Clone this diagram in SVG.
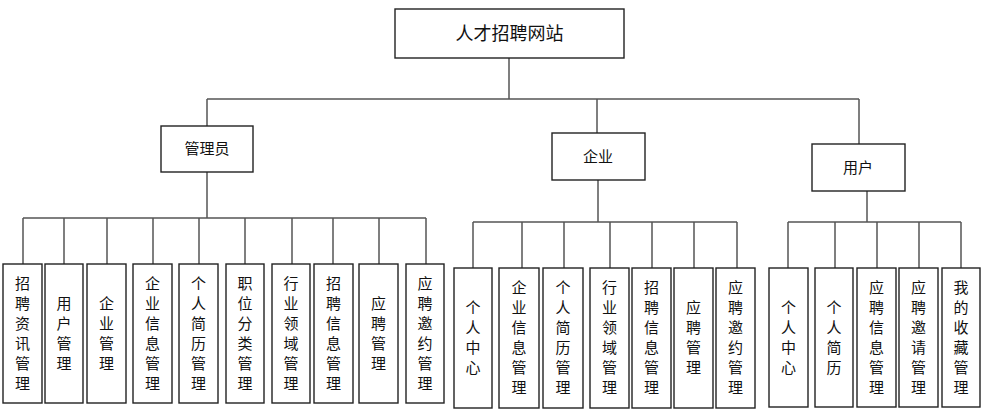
<svg xmlns="http://www.w3.org/2000/svg" width="987" height="414" viewBox="0 0 987 414">
<style>
rect{fill:#fff;stroke:#222;stroke-width:1.4}
text{font-family:"Noto Sans CJK SC","Noto Sans",sans-serif;fill:#111;text-anchor:middle}
.t0{font-size:18px}
.t1{font-size:15px}
.lf{font-size:15px}
#connectors path{fill:none;stroke:#555;stroke-width:1.5}
</style>
<rect x="0" y="0" width="987" height="414" style="fill:#fff;stroke:none"/>
<g id="connectors">
<path d="M509 58V99M207 99H859M207 99V126M597 99V133M859 99V144"/>
<path d="M207 172V218M23 218H426M23 218V264M64 218V264M107 218V264M153 218V264M199 218V264M245 218V264M292 218V264M333 218V264M379 218V264M426 218V264"/>
<path d="M598 180V222M473 222H737M473 222V268M522 222V268M564 222V268M610 222V268M652 222V268M694 222V268M737 222V268"/>
<path d="M867 191V222M788 222H961M788 222V268M835 222V268M877 222V268M919 222V268M961 222V268"/>
</g>
<g id="root"><rect x="395" y="9" width="229" height="49"/><text class="t0" x="509.5" y="40">人才招聘网站</text></g>
<g id="admin"><rect x="161" y="126" width="92" height="46"/><text class="t1" x="207" y="154">管理员</text></g>
<g id="company"><rect x="552" y="133" width="93" height="47"/><text class="t1" x="598" y="162">企业</text></g>
<g id="user"><rect x="812" y="144" width="93" height="47"/><text class="t1" x="858" y="173">用户</text></g>

<g id="a1"><rect x="3" y="264" width="39" height="139"/><text class="lf" x="22.5" y="289"><tspan x="22.5">招</tspan><tspan x="22.5" dy="20">聘</tspan><tspan x="22.5" dy="20">资</tspan><tspan x="22.5" dy="20">讯</tspan><tspan x="22.5" dy="20">管</tspan><tspan x="22.5" dy="20">理</tspan></text></g>
<g id="a2"><rect x="45" y="264" width="38" height="139"/><text class="lf" x="64" y="309"><tspan x="64">用</tspan><tspan x="64" dy="20">户</tspan><tspan x="64" dy="20">管</tspan><tspan x="64" dy="20">理</tspan></text></g>
<g id="a3"><rect x="87" y="264" width="39" height="139"/><text class="lf" x="106.5" y="309"><tspan x="106.5">企</tspan><tspan x="106.5" dy="20">业</tspan><tspan x="106.5" dy="20">管</tspan><tspan x="106.5" dy="20">理</tspan></text></g>
<g id="a4"><rect x="133" y="264" width="39" height="139"/><text class="lf" x="152.5" y="289"><tspan x="152.5">企</tspan><tspan x="152.5" dy="20">业</tspan><tspan x="152.5" dy="20">信</tspan><tspan x="152.5" dy="20">息</tspan><tspan x="152.5" dy="20">管</tspan><tspan x="152.5" dy="20">理</tspan></text></g>
<g id="a5"><rect x="179" y="264" width="39" height="139"/><text class="lf" x="198.5" y="289"><tspan x="198.5">个</tspan><tspan x="198.5" dy="20">人</tspan><tspan x="198.5" dy="20">简</tspan><tspan x="198.5" dy="20">历</tspan><tspan x="198.5" dy="20">管</tspan><tspan x="198.5" dy="20">理</tspan></text></g>
<g id="a6"><rect x="226" y="264" width="38" height="139"/><text class="lf" x="245" y="289"><tspan x="245">职</tspan><tspan x="245" dy="20">位</tspan><tspan x="245" dy="20">分</tspan><tspan x="245" dy="20">类</tspan><tspan x="245" dy="20">管</tspan><tspan x="245" dy="20">理</tspan></text></g>
<g id="a7"><rect x="272" y="264" width="38" height="139"/><text class="lf" x="291" y="289"><tspan x="291">行</tspan><tspan x="291" dy="20">业</tspan><tspan x="291" dy="20">领</tspan><tspan x="291" dy="20">域</tspan><tspan x="291" dy="20">管</tspan><tspan x="291" dy="20">理</tspan></text></g>
<g id="a8"><rect x="314" y="264" width="39" height="139"/><text class="lf" x="333.5" y="289"><tspan x="333.5">招</tspan><tspan x="333.5" dy="20">聘</tspan><tspan x="333.5" dy="20">信</tspan><tspan x="333.5" dy="20">息</tspan><tspan x="333.5" dy="20">管</tspan><tspan x="333.5" dy="20">理</tspan></text></g>
<g id="a9"><rect x="359" y="264" width="39" height="139"/><text class="lf" x="378.5" y="309"><tspan x="378.5">应</tspan><tspan x="378.5" dy="20">聘</tspan><tspan x="378.5" dy="20">管</tspan><tspan x="378.5" dy="20">理</tspan></text></g>
<g id="a10"><rect x="406" y="264" width="38" height="139"/><text class="lf" x="425" y="289"><tspan x="425">应</tspan><tspan x="425" dy="20">聘</tspan><tspan x="425" dy="20">邀</tspan><tspan x="425" dy="20">约</tspan><tspan x="425" dy="20">管</tspan><tspan x="425" dy="20">理</tspan></text></g>

<g id="c1"><rect x="454" y="268" width="38" height="140"/><text class="lf" x="473" y="313"><tspan x="473">个</tspan><tspan x="473" dy="20">人</tspan><tspan x="473" dy="20">中</tspan><tspan x="473" dy="20">心</tspan></text></g>
<g id="c2"><rect x="499" y="268" width="40" height="140"/><text class="lf" x="519" y="293"><tspan x="519">企</tspan><tspan x="519" dy="20">业</tspan><tspan x="519" dy="20">信</tspan><tspan x="519" dy="20">息</tspan><tspan x="519" dy="20">管</tspan><tspan x="519" dy="20">理</tspan></text></g>
<g id="c3"><rect x="543" y="268" width="40" height="140"/><text class="lf" x="563" y="293"><tspan x="563">个</tspan><tspan x="563" dy="20">人</tspan><tspan x="563" dy="20">简</tspan><tspan x="563" dy="20">历</tspan><tspan x="563" dy="20">管</tspan><tspan x="563" dy="20">理</tspan></text></g>
<g id="c4"><rect x="590" y="268" width="39" height="140"/><text class="lf" x="609.5" y="293"><tspan x="609.5">行</tspan><tspan x="609.5" dy="20">业</tspan><tspan x="609.5" dy="20">领</tspan><tspan x="609.5" dy="20">域</tspan><tspan x="609.5" dy="20">管</tspan><tspan x="609.5" dy="20">理</tspan></text></g>
<g id="c5"><rect x="632" y="268" width="39" height="140"/><text class="lf" x="651.5" y="293"><tspan x="651.5">招</tspan><tspan x="651.5" dy="20">聘</tspan><tspan x="651.5" dy="20">信</tspan><tspan x="651.5" dy="20">息</tspan><tspan x="651.5" dy="20">管</tspan><tspan x="651.5" dy="20">理</tspan></text></g>
<g id="c6"><rect x="674" y="268" width="39" height="140"/><text class="lf" x="693.5" y="313"><tspan x="693.5">应</tspan><tspan x="693.5" dy="20">聘</tspan><tspan x="693.5" dy="20">管</tspan><tspan x="693.5" dy="20">理</tspan></text></g>
<g id="c7"><rect x="716" y="268" width="39" height="140"/><text class="lf" x="735.5" y="293"><tspan x="735.5">应</tspan><tspan x="735.5" dy="20">聘</tspan><tspan x="735.5" dy="20">邀</tspan><tspan x="735.5" dy="20">约</tspan><tspan x="735.5" dy="20">管</tspan><tspan x="735.5" dy="20">理</tspan></text></g>

<g id="u1"><rect x="769" y="268" width="39" height="139"/><text class="lf" x="788.5" y="313"><tspan x="788.5">个</tspan><tspan x="788.5" dy="20">人</tspan><tspan x="788.5" dy="20">中</tspan><tspan x="788.5" dy="20">心</tspan></text></g>
<g id="u2"><rect x="815" y="268" width="38" height="139"/><text class="lf" x="834" y="313"><tspan x="834">个</tspan><tspan x="834" dy="20">人</tspan><tspan x="834" dy="20">简</tspan><tspan x="834" dy="20">历</tspan></text></g>
<g id="u3"><rect x="857" y="268" width="39" height="139"/><text class="lf" x="876.5" y="293"><tspan x="876.5">应</tspan><tspan x="876.5" dy="20">聘</tspan><tspan x="876.5" dy="20">信</tspan><tspan x="876.5" dy="20">息</tspan><tspan x="876.5" dy="20">管</tspan><tspan x="876.5" dy="20">理</tspan></text></g>
<g id="u4"><rect x="899" y="268" width="39" height="139"/><text class="lf" x="918.5" y="293"><tspan x="918.5">应</tspan><tspan x="918.5" dy="20">聘</tspan><tspan x="918.5" dy="20">邀</tspan><tspan x="918.5" dy="20">请</tspan><tspan x="918.5" dy="20">管</tspan><tspan x="918.5" dy="20">理</tspan></text></g>
<g id="u5"><rect x="942" y="268" width="38" height="139"/><text class="lf" x="961" y="293"><tspan x="961">我</tspan><tspan x="961" dy="20">的</tspan><tspan x="961" dy="20">收</tspan><tspan x="961" dy="20">藏</tspan><tspan x="961" dy="20">管</tspan><tspan x="961" dy="20">理</tspan></text></g>
</svg>
